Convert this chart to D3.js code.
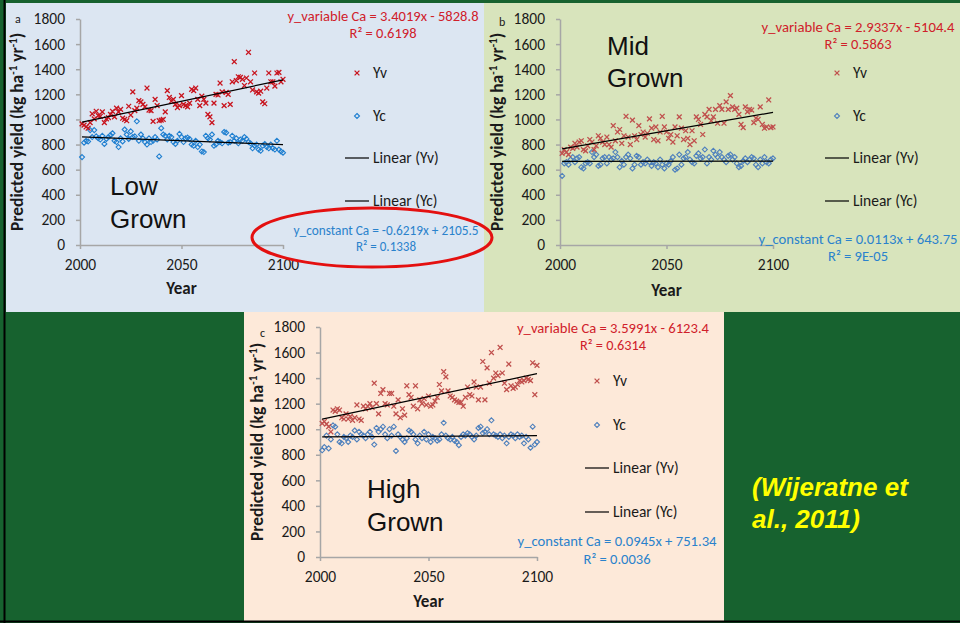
<!DOCTYPE html>
<html>
<head>
<meta charset="utf-8">
<script src="https://cdn.jsdelivr.net/npm/d3@7"></script>
<style>
  body { margin: 0; background: #17622f; }
  svg { display: block; }
</style>
</head>
<body>
<svg id="chart" width="960" height="623"></svg>
<script>
// ---- data ----
var years = d3.range(2001, 2101);
var yTicks = [0, 200, 400, 600, 800, 1000, 1200, 1400, 1600, 1800];
var xTicks = [2000, 2050, 2100];

var lowYv = [965,955,940,930,975,1045,1005,1065,1030,1025,1060,975,1005,1015,1040,1065,1020,1090,1060,1080,
  1010,1000,990,1105,1035,1220,1070,1090,1150,1140,1120,1100,1250,1075,1070,985,1160,1110,990,995,
  1000,1060,1230,1175,1145,1160,1120,1095,1110,1190,1120,1110,1100,1130,1240,1230,1250,1160,1110,1185,
  1160,1130,1040,1020,975,1130,1200,1195,1290,1220,1110,1215,1200,1120,1300,1460,1310,1340,1335,1320,
  1270,1330,1535,1300,1235,1370,1220,1210,1225,1140,1125,1250,1370,1300,1300,1265,1370,1375,1300,1320];
var lowYc = [700,815,830,825,915,860,915,865,850,840,870,805,845,860,875,890,830,820,780,850,
  825,920,880,845,905,860,865,985,830,880,850,820,800,850,820,830,860,840,705,930,
  880,870,840,870,860,820,805,830,885,860,820,850,855,845,800,790,830,780,800,745,
  740,870,850,840,880,790,800,830,820,810,900,895,815,820,870,830,850,810,840,830,
  860,845,820,810,770,790,800,760,750,790,805,780,770,800,770,760,830,760,745,735];

var midYv = [730,760,740,720,780,770,810,780,820,830,760,750,790,840,820,760,790,870,850,820,
  800,860,800,780,950,830,900,920,810,870,1025,860,800,995,870,840,950,880,900,860,
  890,1005,930,840,940,830,900,1025,940,900,850,880,820,940,870,1020,930,840,910,850,
  800,910,830,1020,1000,960,880,1040,1020,1080,990,1020,1080,970,1110,1080,970,1140,1080,1190,
  1100,1080,1090,1040,960,935,1100,1060,1080,1075,975,1010,1000,1100,960,930,940,1155,935,940];
var midYc = [550,650,660,640,680,700,660,690,700,620,610,650,660,650,740,700,720,630,640,690,
  700,650,700,680,690,740,700,620,670,640,700,720,690,610,640,710,700,640,660,650,
  680,660,630,660,650,620,680,640,610,650,640,670,700,600,610,720,640,690,700,740,
  680,660,650,710,730,690,700,760,650,700,680,750,720,700,740,700,680,660,710,720,
  680,700,650,620,630,670,690,660,680,700,690,640,620,680,650,700,660,650,680,690];

var highYv = [1045,1060,1040,1020,980,1150,1140,1160,1150,1090,1080,1120,1080,1100,1070,1090,1190,1080,1070,1180,
  1160,1180,1200,1170,1360,1200,1120,1280,1310,1200,1190,1280,1280,1180,1120,1230,1090,1160,1110,1340,
  1270,1250,1180,1340,1160,1230,1200,1240,1190,1260,1180,1190,1220,1250,1350,1300,1450,1410,1300,1260,
  1250,1230,1220,1210,1210,1180,1250,1330,1270,1260,1370,1330,1230,1330,1530,1230,1480,1360,1600,1400,
  1440,1420,1640,1440,1360,1310,1510,1340,1320,1330,1350,1380,1370,1380,1400,1390,1380,1520,1270,1500];
var highYc = [835,860,950,850,920,1030,1020,960,900,890,940,930,900,950,940,990,920,980,960,950,
  930,960,980,940,880,1010,980,1000,1020,960,930,1000,950,1020,830,960,940,920,900,930,
  990,980,960,920,890,950,930,980,920,960,900,940,930,910,920,960,1050,950,930,920,
  940,910,900,875,940,960,950,970,960,940,920,950,1010,1020,970,980,1000,960,1070,960,
  950,940,960,930,950,890,940,960,950,930,960,940,950,890,940,920,855,1020,880,900];

// trend line coefficients [slope, intercept] as printed on the chart
var lowFitYv = [3.4019, -5828.8], lowFitYc = [-0.6219, 2105.5];
var midFitYv = [2.9337, -5104.4], midFitYc = [0.0113, 643.75];
var highFitYv = [3.5991, -6123.4], highFitYc = [0.0945, 751.34];

var lowEq = ["y_variable Ca = 3.4019x - 5828.8", "R\u00b2 = 0.6198", "y_constant Ca = -0.6219x + 2105.5", "R\u00b2 = 0.1338"];
var midEq = ["y_variable Ca = 2.9337x - 5104.4", "R\u00b2 = 0.5863", "y_constant Ca = 0.0113x + 643.75", "R\u00b2 = 9E-05"];
var highEq = ["y_variable Ca = 3.5991x - 6123.4", "R\u00b2 = 0.6314", "y_constant Ca = 0.0945x + 751.34", "R\u00b2 = 0.0036"];

var legendNames = ["Yv", "Yc", "Linear (Yv)", "Linear (Yc)"];

// ---- drawing ----
var svg = d3.select("#chart");
var calibri = "Carlito, Lato, 'Open Sans', sans-serif";
var arial = "Arial, 'Liberation Sans', sans-serif";

svg.append("rect").attr("width", 960).attr("height", 623).attr("fill", "#17622f");

function drawPanel(p) {
  var g = svg.append("g");
  g.append("rect")
    .attr("x", p.bx).attr("y", p.by).attr("width", p.bw).attr("height", p.bh)
    .attr("fill", p.bg);

  var x = d3.scaleLinear().domain([2000, 2100]).range([p.x0, p.x1]);
  var y = d3.scaleLinear().domain([0, 1800]).range([p.yb, p.yt]);

  var ya = g.append("g")
    .attr("transform", "translate(" + p.x0 + ",0)")
    .call(d3.axisLeft(y).tickValues(yTicks).tickFormat(d3.format("d")).tickSize(4).tickSizeOuter(0).tickPadding(11));
  var xa = g.append("g")
    .attr("transform", "translate(0," + p.yb + ")")
    .call(d3.axisBottom(x).tickValues(xTicks).tickFormat(d3.format("d")).tickSize(4).tickSizeOuter(0).tickPadding(10));
  [ya, xa].forEach(function(a) {
    a.select(".domain").attr("stroke", "#a6a6a6").attr("stroke-width", 1.5);
    a.selectAll(".tick line").attr("stroke", "#a6a6a6").attr("stroke-width", 1.5);
    a.selectAll(".tick text").attr("fill", "#1a1a1a").style("font-family", calibri).style("font-size", "15.5px");
  });

  // axis titles
  var yt = g.append("text")
    .attr("transform", "translate(" + p.ylx + "," + p.yly + ") rotate(-90)")
    .attr("text-anchor", "middle")
    .style("font-family", calibri).style("font-size", "17.5px").style("font-weight", "bold")
    .attr("fill", "#1a1a1a");
  yt.append("tspan").text("Predicted yield (kg ha");
  yt.append("tspan").attr("baseline-shift", "super").style("font-size", "11px").text("-1");
  yt.append("tspan").text(" yr");
  yt.append("tspan").attr("baseline-shift", "super").style("font-size", "11px").text("-1");
  yt.append("tspan").text(")");

  g.append("text").attr("x", p.tagX).attr("y", p.tagY).text(p.tag)
    .style("font-family", calibri).style("font-size", "12px").attr("fill", "#1a1a1a");

  g.append("text").attr("x", x(2050)).attr("y", p.yearY).attr("text-anchor", "middle")
    .style("font-family", calibri).style("font-size", "17px").style("font-weight", "bold")
    .attr("fill", "#1a1a1a").text("Year");

  // points
  g.append("g").selectAll("path")
    .data(years.map(function(yr, i) { return [yr, p.yc[i]]; }))
    .enter().append("path")
    .attr("transform", function(d) { return "translate(" + x(d[0]) + "," + y(d[1]) + ")"; })
    .attr("d", "M0,-2.5L2.5,0L0,2.5L-2.5,0Z")
    .attr("fill", "none").attr("stroke", p.blue).attr("stroke-width", 1.1);

  g.append("g").selectAll("path")
    .data(years.map(function(yr, i) { return [yr, p.yv[i]]; }))
    .enter().append("path")
    .attr("transform", function(d) { return "translate(" + x(d[0]) + "," + y(d[1]) + ")"; })
    .attr("d", "M-2.4,-2.4L2.4,2.4M-2.4,2.4L2.4,-2.4")
    .attr("stroke", p.red).attr("stroke-width", 1.3);

  // trend lines
  [p.fitYv, p.fitYc].forEach(function(f) {
    var x1 = years[0], x2 = years[years.length - 1];
    g.append("line")
      .attr("x1", x(x1)).attr("y1", y(f[0] * x1 + f[1]))
      .attr("x2", x(x2)).attr("y2", y(f[0] * x2 + f[1]))
      .attr("stroke", "#000").attr("stroke-width", 1.2);
  });

  // legend
  g.append("path")
    .attr("transform", "translate(" + p.lgX + "," + p.lgY[0] + ")")
    .attr("d", "M-2.4,-2.4L2.4,2.4M-2.4,2.4L2.4,-2.4")
    .attr("stroke", p.red).attr("stroke-width", 1.3);
  g.append("path")
    .attr("transform", "translate(" + p.lgX + "," + p.lgY[1] + ")")
    .attr("d", "M0,-2.5L2.5,0L0,2.5L-2.5,0Z")
    .attr("fill", "none").attr("stroke", p.blue).attr("stroke-width", 1.1);
  [2, 3].forEach(function(k) {
    g.append("line")
      .attr("x1", p.lgX - 12).attr("x2", p.lgX + 12)
      .attr("y1", p.lgY[k]).attr("y2", p.lgY[k])
      .attr("stroke", "#000").attr("stroke-width", 1.2);
  });
  legendNames.forEach(function(name, k) {
    g.append("text").attr("x", p.lgX + 16).attr("y", p.lgY[k] + 5)
      .style("font-family", calibri).style("font-size", "15.5px")
      .attr("fill", "#1a1a1a").text(name);
  });

  // equations (widths matched to the figure)
  var eqText = function(pos, line, str, col, w) {
    var t = g.append("text").attr("x", pos[0]).attr("y", pos[line])
      .attr("text-anchor", "middle").style("font-family", calibri)
      .style("font-size", "14px").attr("fill", col).text(str);
    if (w) t.attr("textLength", w).attr("lengthAdjust", "spacingAndGlyphs");
    return t;
  };
  eqText(p.redEq, 1, p.eq[0], p.redText, p.eqW[0]);
  eqText(p.redEq, 2, p.eq[1], p.redText, p.eqW[1]);
  eqText(p.blueEq, 1, p.eq[2], p.blueText, p.eqW[2]);
  eqText(p.blueEq, 2, p.eq[3], p.blueText, p.eqW[3]);

  // big label
  p.label.forEach(function(line, k) {
    g.append("text").attr("x", p.lbX).attr("y", p.lbY[k])
      .style("font-family", arial).style("font-size", "26px")
      .attr("fill", "#111").text(line);
  });
  return g;
}

drawPanel({
  bx: 6, by: 3, bw: 478, bh: 309, bg: "#dce6f2",
  x0: 80, x1: 283, yb: 245, yt: 19,
  ylx: 23, yly: 132, tag: "a", tagX: 15, tagY: 23, yearY: 294,
  yv: lowYv, yc: lowYc, fitYv: lowFitYv, fitYc: lowFitYc,
  red: "#c8141e", blue: "#1f7fd0", redText: "#d0202a", blueText: "#2a82cc",
  lgX: 357, lgY: [73, 116, 158, 201],
  eq: lowEq, eqW: [191, 67, 185, 60], redEq: [383, 21, 38], blueEq: [386, 235, 251],
  label: ["Low", "Grown"], lbX: 110, lbY: [195, 228]
});

drawPanel({
  bx: 484, by: 3, bw: 476, bh: 309, bg: "#d8e4bc",
  x0: 560, x1: 773, yb: 245, yt: 19,
  ylx: 503, yly: 132, tag: "b", tagX: 499, tagY: 26, yearY: 296,
  yv: midYv, yc: midYc, fitYv: midFitYv, fitYc: midFitYc,
  red: "#c0504d", blue: "#4f81bd", redText: "#d0202a", blueText: "#2a82cc",
  lgX: 837, lgY: [73, 116, 158, 201],
  eq: midEq, eqW: [193, 67, 199, 60], redEq: [858, 32, 49], blueEq: [858, 244, 261],
  label: ["Mid", "Grown"], lbX: 607, lbY: [55, 87]
});

drawPanel({
  bx: 244, by: 312, bw: 480, bh: 309, bg: "#fde9d9",
  x0: 320, x1: 537, yb: 557, yt: 327,
  ylx: 263, yly: 442, tag: "c", tagX: 260, tagY: 337, yearY: 607,
  yv: highYv, yc: highYc, fitYv: highFitYv, fitYc: highFitYc,
  red: "#c0504d", blue: "#4f81bd", redText: "#d0202a", blueText: "#2a82cc",
  lgX: 597, lgY: [381, 425, 468, 512],
  eq: highEq, eqW: [192, 66, 199, 67], redEq: [613, 333, 350], blueEq: [617, 546, 564],
  label: ["High", "Grown"], lbX: 367, lbY: [498, 531]
});

// highlight ellipse round the Low Grown y_constant equation
svg.append("ellipse")
  .attr("cx", 372).attr("cy", 237.5).attr("rx", 120).attr("ry", 29.5)
  .attr("fill", "none").attr("stroke", "#e41010").attr("stroke-width", 3);

// citation
["(Wijeratne et", "al., 2011)"].forEach(function(line, k) {
  svg.append("text").attr("x", 752).attr("y", [496, 528][k])
    .style("font-family", arial).style("font-size", "26px")
    .style("font-weight", "bold").style("font-style", "italic")
    .attr("fill", "#ffff00").text(line);
});

// slide frame edges
svg.append("line").attr("x1", 4.5).attr("x2", 4.5).attr("y1", 0).attr("y2", 623)
  .attr("stroke", "#000").attr("stroke-width", 2);
svg.append("line").attr("x1", 0).attr("x2", 960).attr("y1", 621.5).attr("y2", 621.5)
  .attr("stroke", "#000").attr("stroke-width", 2);
</script>
</body>
</html>
